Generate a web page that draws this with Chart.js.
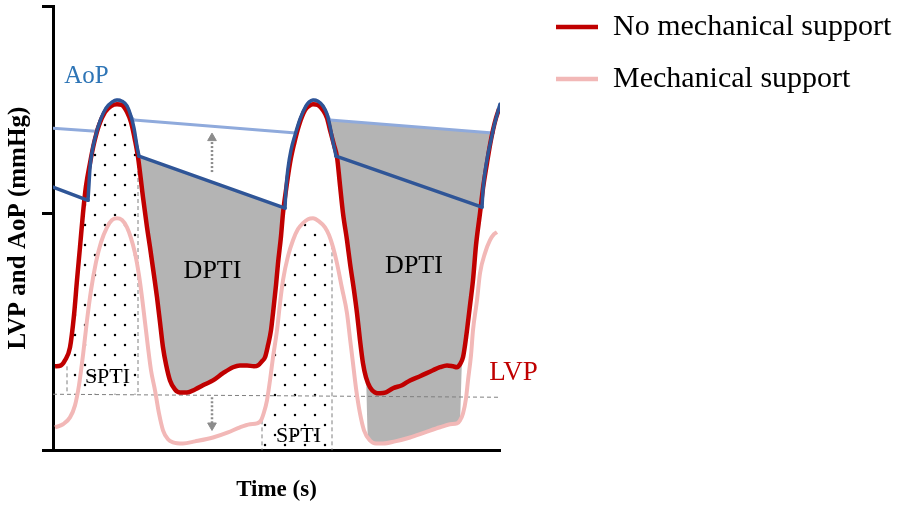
<!DOCTYPE html>
<html><head><meta charset="utf-8">
<script src="https://cdn.jsdelivr.net/npm/chart.js@4.4.1/dist/chart.umd.min.js"></script>
<style>html,body{margin:0;padding:0;background:#fff}#wrap{width:900px;height:506px;position:relative}</style>
</head><body><div id="wrap"><canvas id="c"></canvas></div>
<script>
// ---- data: time (s), pressure (mmHg) ----
const yTicks = [0, 79, 148];
const xRange = [0, 1.788];

// LVP without mechanical support (red)
const lvpNoSupport = [[0.008,28.0],[0.032,28.3],[0.048,30.0],[0.068,34.3],[0.084,45.0],[0.096,56.7],[0.108,67.7],[0.120,79.0],[0.132,88.0],[0.148,95.7],[0.164,102.3],[0.184,108.3],[0.208,112.7],[0.232,114.7],[0.256,115.3],[0.276,115.0],[0.296,112.7],[0.312,109.3],[0.328,103.3],[0.340,97.7],[0.360,84.3],[0.376,74.3],[0.388,67.7],[0.404,58.3],[0.416,51.0],[0.428,42.7],[0.440,34.3],[0.452,28.7],[0.468,23.3],[0.488,20.3],[0.508,19.3],[0.536,19.3],[0.568,20.3],[0.608,22.0],[0.640,23.3],[0.680,25.7],[0.720,27.7],[0.748,28.3],[0.776,28.3],[0.804,28.0],[0.820,28.3],[0.836,29.7],[0.848,31.0],[0.860,35.0],[0.872,40.0],[0.880,45.7],[0.892,55.0],[0.900,62.3],[0.912,71.3],[0.920,79.0],[0.932,86.7],[0.948,95.7],[0.964,102.0],[0.984,108.3],[1.008,113.3],[1.024,114.7],[1.040,115.3],[1.060,115.0],[1.080,113.3],[1.096,110.7],[1.108,106.7],[1.124,101.7],[1.136,97.7],[1.148,88.3],[1.160,79.0],[1.176,70.0],[1.188,62.3],[1.204,53.3],[1.216,45.7],[1.228,36.7],[1.240,29.0],[1.252,24.3],[1.268,21.0],[1.288,19.3],[1.308,19.0],[1.332,19.3],[1.360,20.7],[1.396,21.7],[1.428,23.3],[1.468,24.7],[1.520,26.7],[1.548,27.7],[1.576,28.3],[1.600,28.0],[1.616,27.7],[1.628,28.7],[1.640,31.0],[1.648,35.0],[1.656,40.0],[1.668,48.3],[1.680,56.7],[1.692,68.3],[1.708,79.0],[1.720,87.3],[1.736,95.7],[1.748,101.7],[1.760,106.7],[1.772,110.7],[1.784,113.7]];

// LVP with mechanical support (pink)
const lvpSupport = [[0.008,7.7],[0.040,8.7],[0.068,11.0],[0.088,15.0],[0.104,21.7],[0.120,31.7],[0.136,43.3],[0.152,53.3],[0.172,62.7],[0.192,69.3],[0.216,74.3],[0.236,76.7],[0.256,77.3],[0.276,76.7],[0.296,74.3],[0.312,70.7],[0.328,65.7],[0.344,58.3],[0.356,51.0],[0.368,42.7],[0.380,34.3],[0.392,26.7],[0.408,20.0],[0.424,12.3],[0.440,6.7],[0.460,3.7],[0.480,2.7],[0.520,2.3],[0.568,3.0],[0.640,4.3],[0.700,6.0],[0.748,7.7],[0.788,8.7],[0.816,9.0],[0.832,10.0],[0.844,12.7],[0.856,16.7],[0.868,23.3],[0.880,31.0],[0.896,40.0],[0.908,49.0],[0.920,56.7],[0.940,64.7],[0.960,70.0],[0.980,73.7],[1.000,75.7],[1.020,77.0],[1.040,77.3],[1.064,76.3],[1.088,74.3],[1.104,71.7],[1.120,67.7],[1.136,62.3],[1.156,54.0],[1.176,45.7],[1.188,37.3],[1.200,29.0],[1.212,20.7],[1.228,12.3],[1.244,6.7],[1.268,3.3],[1.292,2.3],[1.320,2.3],[1.368,3.0],[1.428,4.3],[1.488,6.0],[1.548,7.7],[1.588,8.7],[1.616,9.0],[1.628,10.0],[1.640,12.3],[1.652,17.3],[1.660,23.3],[1.672,31.7],[1.680,40.0],[1.696,50.0],[1.708,59.0],[1.728,65.7],[1.748,70.0],[1.764,72.0],[1.776,72.7]];

// AoP without support (dark blue): diastolic decays and ejection peaks
const aopDecay0 = [[0.000,87.7],[0.140,83.3]];
const aopEject1 = [[0.140,83.3],[0.144,88.7],[0.148,94.0],[0.156,99.3],[0.168,104.0],[0.188,109.7],[0.212,114.0],[0.236,116.0],[0.256,116.7],[0.276,116.3],[0.296,114.7],[0.312,111.3],[0.324,107.3],[0.336,101.3],[0.344,98.0]];
const aopDecay1 = [[0.344,98.0],[0.928,80.7]];
const aopEject2 = [[0.928,80.7],[0.932,87.3],[0.940,94.0],[0.952,100.0],[0.968,105.0],[0.988,110.3],[1.012,114.7],[1.024,116.0],[1.040,116.7],[1.060,116.3],[1.080,114.7],[1.096,112.0],[1.108,108.0],[1.120,102.7],[1.128,99.7],[1.132,98.0]];
const aopDecay2 = [[1.132,98.0],[1.716,81.0]];
const aopEject3 = [[1.716,81.0],[1.720,86.7],[1.728,92.7],[1.740,98.7],[1.752,103.3],[1.764,108.0],[1.776,111.7],[1.788,115.3]];

// AoP with support (light blue)
const aopSupDecay0 = [[0.000,107.3],[0.172,106.3]];
const aopSupEject1 = [[0.172,106.3],[0.188,109.7],[0.212,114.0],[0.236,116.0],[0.256,116.7],[0.276,116.3],[0.296,114.7],[0.312,111.3],[0.324,110.0]];
const aopSupDecay1 = [[0.324,110.0],[0.972,105.7]];
const aopSupEject2 = [[0.972,105.7],[0.988,110.3],[1.012,114.7],[1.024,116.0],[1.040,116.7],[1.060,116.3],[1.080,114.7],[1.096,112.0],[1.108,110.0]];
const aopSupDecay2 = [[1.108,110.0],[1.760,105.7]];
const aopSupEject3 = [[1.760,105.7],[1.764,108.0],[1.776,111.7],[1.788,115.3]];

// lower edge of the second DPTI area
const dpti2Edge = [[1.108,106.7],[1.124,101.7],[1.136,97.7],[1.148,88.3],[1.160,79.0],[1.176,70.0],[1.188,62.3],[1.204,53.3],[1.216,45.7],[1.228,36.7],[1.240,29.0],[1.252,24.3],[1.260,4.7],[1.268,3.3],[1.292,2.3],[1.320,2.3],[1.368,3.0],[1.428,4.3],[1.488,6.0],[1.548,7.7],[1.588,8.7],[1.616,9.0],[1.628,9.7],[1.636,29.3],[1.648,35.0],[1.656,40.0],[1.668,48.3],[1.680,56.7],[1.692,68.3],[1.708,79.0],[1.720,87.3],[1.736,95.7],[1.748,101.7],[1.756,105.0]];

// SPTI bases
const spti1Base = [[0.056,18.7],[0.340,18.7]];
const spti2Base = [[0.836,0],[1.116,0]];

// dashed guide lines
const guideBaseline = [[0.000,18.7],[1.788,17.7]];
const guideV1 = [[0.056,28.0],[0.056,18.7]];
const guideV2 = [[0.340,97.7],[0.340,18.7]];
const guideV3 = [[0.836,10.0],[0.836,0]];
const guideV4 = [[1.116,68.3],[1.116,0]];

// arrows (shaft start, head)
const arrowUp = [[0.636,92.7],[0.636,104.0]];
const arrowDown = [[0.636,17.7],[0.636,8.3]];

// text labels
const labelTexts = ['AoP','DPTI','DPTI','SPTI','SPTI','LVP'];
const labelT = [0.134,0.638,1.444,0.218,0.982,1.842];
const labelP = [122.3,57.3,59.0,22.3,2.7,23.3];
const legendTexts = ['No mechanical support','Mechanical support'];

// ---- styles ----
const RED = '#C00000', PINK = '#F2B8B7', DBLUE = '#2F5597', LBLUE = '#8FAADC', GRAY = '#B4B4B4', GUIDE = '#7F7F7F', ARROW = '#8C8C8C';
const labelColors = ['#2E75B6','#000','#000','#000','#000',RED];
const labelSizes = [25,26,26,22,22,27];
const legendColors = [RED, PINK];
const FONT = "'Liberation Serif','Times New Roman',serif";

const canvas = document.getElementById('c');
const tile = document.createElement('canvas');
tile.width = 20; tile.height = 20;
const tg = tile.getContext('2d');
tg.fillStyle = '#000';
tg.beginPath(); tg.arc(5,5,1.25,0,Math.PI*2); tg.fill();
tg.beginPath(); tg.arc(15,15,1.25,0,Math.PI*2); tg.fill();
const dots = canvas.getContext('2d').createPattern(tile,'repeat');

const P = a => a.map(([x,y]) => ({x, y}));
const ds = [];
function add(o){ ds.push(Object.assign({pointRadius:0, tension:0, fill:false}, o)); return ds.length-1; }

const iRed = add({label:'No mechanical support', data:P(lvpNoSupport), borderColor:RED, borderWidth:4.5, cubicInterpolationMode:'monotone', order:3});
const iPink = add({label:'Mechanical support', data:P(lvpSupport), borderColor:PINK, borderWidth:4, cubicInterpolationMode:'monotone', order:4});
const iEdge = add({label:'edge', data:P(dpti2Edge), borderColor:'rgba(0,0,0,0)', borderWidth:1, cubicInterpolationMode:'monotone', order:40});
add({label:'DPTI', data:P(aopDecay1), fill:iRed, backgroundColor:GRAY, borderColor:'rgba(0,0,0,0)', borderWidth:1, order:31});
add({label:'DPTI', data:P(aopSupDecay2), fill:iEdge, backgroundColor:GRAY, borderColor:'rgba(0,0,0,0)', borderWidth:1, order:31});
add({label:'SPTI', data:P(spti1Base), fill:iRed, backgroundColor:dots, borderColor:'rgba(0,0,0,0)', borderWidth:1, order:30});
add({label:'SPTI', data:P(spti2Base), fill:iPink, backgroundColor:dots, borderColor:'rgba(0,0,0,0)', borderWidth:1, order:30});
[guideBaseline, guideV1, guideV2, guideV3, guideV4].forEach(g => add({label:'guide', data:P(g), borderColor:GUIDE, borderWidth:1, borderDash:[4,3], order:20}));
add({label:'arrow', data:P(arrowUp), borderColor:ARROW, borderWidth:2.5, borderDash:[2,2], pointRadius:[0,5], pointStyle:'triangle', pointRotation:[0,0], pointBackgroundColor:ARROW, pointBorderColor:ARROW, pointBorderWidth:1, order:15});
add({label:'arrow', data:P(arrowDown), borderColor:ARROW, borderWidth:2.5, borderDash:[2,2], pointRadius:[0,5], pointStyle:'triangle', pointRotation:[0,180], pointBackgroundColor:ARROW, pointBorderColor:ARROW, pointBorderWidth:1, order:15});
[aopSupDecay0, aopSupEject1, aopSupDecay1, aopSupEject2, aopSupDecay2, aopSupEject3].forEach(s => add({label:'AoP support', data:P(s), borderColor:LBLUE, borderWidth:3, cubicInterpolationMode: s.length > 2 ? 'monotone' : 'default', borderCapStyle:'round', borderJoinStyle:'round', order:6}));
[aopDecay0, aopEject1, aopDecay1, aopEject2, aopDecay2, aopEject3].forEach(s => add({label:'AoP', data:P(s), borderColor:DBLUE, borderWidth:3.5, cubicInterpolationMode: s.length > 2 ? 'monotone' : 'default', borderCapStyle:'round', borderJoinStyle:'round', order:1}));

const textPlugin = {
  id: 'texts',
  afterDatasetsDraw(chart) {
    const {ctx, scales:{x, y}} = chart;
    ctx.save();
    ctx.textAlign = 'center';
    ctx.textBaseline = 'alphabetic';
    labelTexts.forEach((t, i) => {
      ctx.font = labelSizes[i] + 'px ' + FONT;
      ctx.fillStyle = labelColors[i];
      ctx.fillText(t, x.getPixelForValue(labelT[i]), y.getPixelForValue(labelP[i]));
    });
    // legend
    ctx.textAlign = 'left';
    legendTexts.forEach((t, i) => {
      const cy = 27 + i * 52;
      ctx.strokeStyle = legendColors[i];
      ctx.lineWidth = 4.5;
      ctx.beginPath(); ctx.moveTo(556, cy); ctx.lineTo(598, cy); ctx.stroke();
      ctx.font = '30px ' + FONT;
      ctx.fillStyle = '#000';
      ctx.fillText(t, 613, cy + 8);
    });
    ctx.restore();
  }
};

new Chart(canvas, {
  type: 'line',
  data: { datasets: ds },
  options: {
    responsive: true, maintainAspectRatio: false, animation: false, events: [],
    layout: { padding: { left: 4, top: 6, right: 400, bottom: 0 } },
    plugins: { legend: { display: false }, tooltip: { enabled: false } },
    scales: {
      x: {
        type: 'linear', min: xRange[0], max: xRange[1],
        ticks: { display: false },
        grid: { display: false, drawTicks: false, tickLength: 0 },
        border: { display: true, color: '#000', width: 3 },
        title: { display: true, text: 'Time (s)', color: '#000', font: { family: FONT, size: 23, weight: 'bold' }, padding: { top: 26, bottom: 2 } }
      },
      y: {
        type: 'linear', min: yTicks[0], max: yTicks[yTicks.length - 1],
        afterBuildTicks: s => { s.ticks = yTicks.map(v => ({ value: v })); },
        ticks: { display: false },
        grid: { display: true, drawOnChartArea: false, drawTicks: true, tickLength: 11, color: '#000', lineWidth: 3 },
        border: { display: true, color: '#000', width: 3 },
        title: { display: true, text: 'LVP and AoP (mmHg)', color: '#000', font: { family: FONT, size: 25, weight: 'bold' }, padding: { top: 0, bottom: 8 } }
      }
    }
  },
  plugins: [textPlugin]
});
</script></body></html>
